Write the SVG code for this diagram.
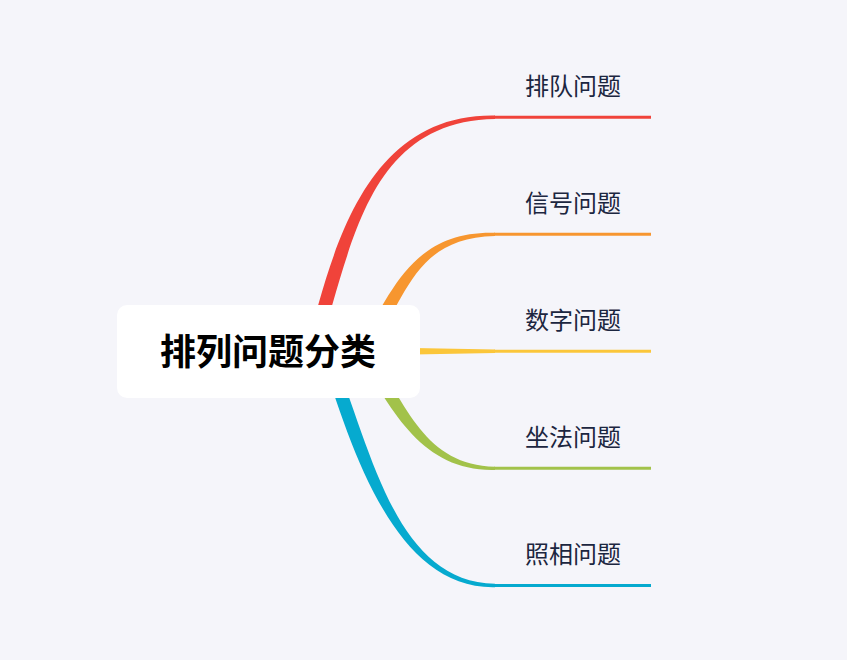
<svg xmlns="http://www.w3.org/2000/svg" width="847" height="660" viewBox="0 0 847 660">
<style>
.lbl{font-family:"Noto Sans CJK SC","Noto Sans",sans-serif;font-size:24px;fill:#1c2640}
.root{font-family:"Noto Sans CJK SC","Noto Sans",sans-serif;font-size:36px;font-weight:bold;fill:#000;text-anchor:middle}
.ul{stroke-width:3;fill:none}
</style>
<rect x="0" y="0" width="847" height="660" fill="#f5f5fa"/>
<g id="connectors">
<path d="M306 351 C332 251 365 113.5 495 115.6 L495 119 C365 121.1 352 251 318 351 Z" fill="#f0433a"/>
<path d="M358.8 347.9 C393 286.8 415 230.8 495 232.7 L495 235.9 C415 237.8 407 295.2 369.2 354.1 Z" fill="#f7962f"/>
<path d="M400 347.8 L495 349.6 L495 353 L400 354.8 Z" fill="#fbc63a"/>
<path d="M358.8 354.1 C393 415.2 425 471.8 495 469.9 L495 466.7 C425 464.8 407 406.8 369.2 347.9 Z" fill="#a2c24a"/>
<path d="M320 351 C352 451 395 589.3 495 587.2 L495 583.8 C395 581.7 372 451 332 351 Z" fill="#06aacf"/>
</g>
<g id="root">
<rect x="117" y="305" width="303" height="93" rx="10" fill="#fff"/>
<text class="root" x="268" y="364.5">排列问题分类</text>
</g>
<g id="n1">
<line class="ul" x1="494" y1="117.3" x2="651" y2="117.3" stroke="#f0433a"/>
<text class="lbl" x="525" y="95">排队问题</text>
</g>
<g id="n2">
<line class="ul" x1="494" y1="234.3" x2="651" y2="234.3" stroke="#f7962f"/>
<text class="lbl" x="525" y="212">信号问题</text>
</g>
<g id="n3">
<line class="ul" x1="494" y1="351.3" x2="651" y2="351.3" stroke="#fbc63a"/>
<text class="lbl" x="525" y="329">数字问题</text>
</g>
<g id="n4">
<line class="ul" x1="494" y1="468.3" x2="651" y2="468.3" stroke="#a2c24a"/>
<text class="lbl" x="525" y="446">坐法问题</text>
</g>
<g id="n5">
<line class="ul" x1="494" y1="585.5" x2="651" y2="585.5" stroke="#06aacf"/>
<text class="lbl" x="525" y="563">照相问题</text>
</g>
</svg>
